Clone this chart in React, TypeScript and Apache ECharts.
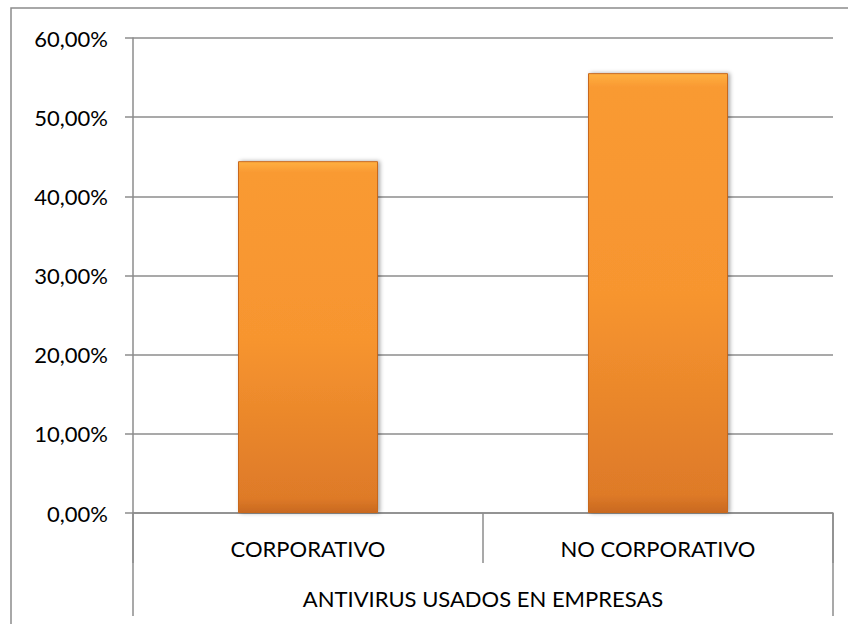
import React, { useEffect, useRef } from "react";
import * as echarts from "echarts";

const categories = ["CORPORATIVO", "NO CORPORATIVO"];
const groupLabel = ["ANTIVIRUS USADOS EN EMPRESAS"];
const values = [44.44, 55.56];
const yTicks = { min: 0, max: 60, interval: 10 };

const FONT = "Lato, 'Open Sans', sans-serif";
const GRAY = "#8c8c8c";

export default function App() {
  const ref = useRef<HTMLDivElement>(null);
  useEffect(() => {
    if (!ref.current) return;
    const chart = echarts.init(ref.current, undefined, { renderer: "svg" });
    chart.setOption({
      animation: false,
      backgroundColor: "#ffffff",
      grid: { left: 133, right: 15, top: 38, bottom: 111 },
      graphic: [
        {
          type: "rect",
          shape: { x: 11, y: 8, width: 900, height: 700 },
          style: { fill: "none", stroke: GRAY, lineWidth: 1.5 },
          silent: true,
        },
      ],
      xAxis: [
        {
          type: "category",
          data: categories,
          position: "bottom",
          axisLine: { show: true, lineStyle: { color: GRAY, width: 1.5 } },
          axisTick: { show: true, length: 50, alignWithLabel: false, lineStyle: { color: GRAY, width: 1.5 } },
          axisLabel: {
            margin: 23,
            fontFamily: FONT,
            fontSize: 22,
            color: "#000",
            lineHeight: 24,
          },
          splitLine: { show: false },
        },
        {
          type: "category",
          data: groupLabel,
          position: "bottom",
          gridIndex: 0,
          axisLine: { show: false },
          axisTick: { show: true, length: 103, alignWithLabel: false, lineStyle: { color: GRAY, width: 1.5 } },
          axisLabel: {
            margin: 73,
            fontFamily: FONT,
            fontSize: 22,
            color: "#000",
            lineHeight: 24,
          },
          splitLine: { show: false },
        },
      ],
      yAxis: {
        type: "value",
        min: yTicks.min,
        max: yTicks.max,
        interval: yTicks.interval,
        axisLine: { show: true, lineStyle: { color: GRAY, width: 1.5 } },
        axisTick: { show: true, inside: false, length: 8, lineStyle: { color: GRAY, width: 1.5 } },
        splitLine: { show: true, lineStyle: { color: GRAY, width: 1.5 } },
        axisLabel: {
          margin: 25,
          fontFamily: FONT,
          fontSize: 22,
          color: "#000",
          formatter: (v: number) => v.toFixed(2).replace(".", ",") + "%",
        },
      },
      series: [
        {
          type: "bar",
          data: values,
          xAxisIndex: 0,
          barWidth: "40%",
          itemStyle: {
            color: new echarts.graphic.LinearGradient(0, 0, 0, 1, [
              { offset: 0, color: "#FFB040" },
              { offset: 0.03, color: "#F99A33" },
              { offset: 0.5, color: "#F7952F" },
              { offset: 0.96, color: "#DE7A28" },
              { offset: 1, color: "#C9691F" },
            ]),
            borderColor: "#C8681E",
            borderWidth: 1,
            shadowColor: "rgba(0,0,0,0.35)",
            shadowBlur: 4,
            shadowOffsetX: 2,
            shadowOffsetY: 0,
          },
        },
      ],
    });
    return () => chart.dispose();
  }, []);
  return (
    <div
      ref={ref}
      style={{ position: "fixed", left: 0, top: 0, width: 848, height: 624 }}
    />
  );
}
